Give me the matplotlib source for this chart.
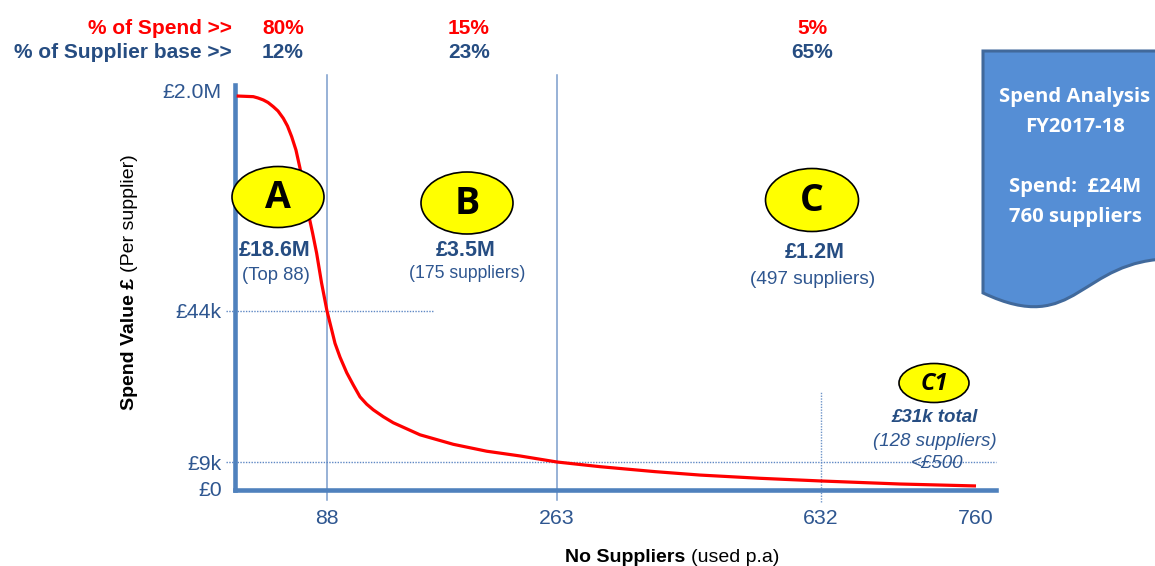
import numpy as np
import matplotlib
matplotlib.use("Agg")
import matplotlib.pyplot as plt
from matplotlib.patches import Ellipse, PathPatch
from matplotlib.path import Path
from matplotlib.transforms import ScaledTranslation

# ---------------- data ----------------
# supplier rank (sorted by spend) and spend per supplier (GBP)
rank = [1.6, 17.5, 22, 27.1, 31.6, 36.6, 41.1, 46.2, 50.2, 54.2,
        58.3, 62.2, 66, 70.1, 74.2, 78.1, 82.8, 88,
        91.6, 94.1, 97.9, 103, 108, 113.1, 118.2, 123.2, 130.8, 138.4, 158.8, 184.1, 209.5, 234.9, 263,
        323, 400, 463, 547, 632, 697, 760]
spend = [2000000, 1994000, 1982000, 1964000, 1941000, 1903000, 1864000, 1797000, 1727000, 1630000,
         1509000, 1342000, 1145000, 933000, 754000, 569000, 299000, 44000,
         39600, 36500, 33300, 29700, 26850, 24100, 22400, 21100, 19500, 18100, 15300, 13100, 11500, 10400, 9000,
         7500, 5900, 4800, 3760, 2900, 1930, 1300]

x_ticks = [88, 263, 632, 760]
x_tick_labels = ["88", "263", "632", "760"]
y_ticks = [0, 9000, 44000, 2000000]
y_tick_labels = ["£0", "£9k", "£44k", "£2.0M"]

segment_names = ["A", "B", "C"]
segment_totals = ["£18.6M", "£3.5M", "£1.2M"]
segment_counts = ["(Top 88)", "(175 suppliers)", "(497 suppliers)"]
spend_share = ["80%", "15%", "5%"]
supplier_share = ["12%", "23%", "65%"]

tail_name = "C1"
tail_lines = ["£31k total", "(128 suppliers)", "<£500"]
tail_start = 632
band_thresholds = [44000, 9000]

summary_lines = ["Spend Analysis", "FY2017-18", "", "Spend:  £24M", "760 suppliers"]

# ---------------- style ----------------
RED = "#FF0000"
NAVY = "#264D82"
TXT = "#2E5690"
AXIS = "#4F81BD"
GUIDE = "#7A9CCB"
SANS = ["Liberation Sans", "DejaVu Sans"]
BOXFONT = ["Open Sans", "DejaVu Sans"]
plt.rcParams["font.family"] = SANS

W, H = 1155, 566
fig = plt.figure(figsize=(W / 100, H / 100), dpi=100)

# piecewise-linear scales (pixel offsets of the knots along each axis)
xk_data = np.array([-100, 0, 88, 263, 632, 760, 1000], dtype=float)
xk_pix = np.array([-104.5, 0, 92, 322, 586, 741, 1031.6])
yk_data = np.array([-10000, 0, 9000, 44000, 2000000, 3000000], dtype=float)
yk_pix = np.array([-31, 0, 28, 179, 394, 503.9])


def xf(v):
    return np.interp(v, xk_data, xk_pix)


def xi(v):
    return np.interp(v, xk_pix, xk_data)


def yf(v):
    return np.interp(v, yk_data, yk_pix)


def yi(v):
    return np.interp(v, yk_pix, yk_data)


L, R, T, B = 235, 996, 85, 490
ax = fig.add_axes([L / W, (H - B) / H, (R - L) / W, (B - T) / H])
ax.set_xscale("function", functions=(xf, xi))
ax.set_yscale("function", functions=(yf, yi))
ax.set_xlim(0, float(xi(R - L)))
ax.set_ylim(0, float(yi(B - T)))

for s in ["top", "right"]:
    ax.spines[s].set_visible(False)
for s in ["left", "bottom"]:
    ax.spines[s].set_color(AXIS)
    ax.spines[s].set_linewidth(3.3)
    ax.spines[s].set_capstyle("projecting")

ax.set_xticks(x_ticks, x_tick_labels)
ax.set_yticks(y_ticks, y_tick_labels)
ax.minorticks_off()
ax.tick_params(axis="x", length=0, pad=14, labelsize=15.3, labelcolor=TXT)
ax.tick_params(axis="y", length=0, pad=9.4, labelsize=15.3, labelcolor=TXT)
# nudge the top and bottom value labels slightly upward
yt = ax.yaxis.get_major_ticks()
yt[3].label1.set_transform(yt[3].label1.get_transform()
                           + ScaledTranslation(0, 0.05, fig.dpi_scale_trans))
yt[0].label1.set_transform(yt[0].label1.get_transform()
                           + ScaledTranslation(0, 0.02, fig.dpi_scale_trans))

# segment boundaries
for xv in x_ticks[:2]:
    ax.axvline(xv, ymin=-0.025, ymax=1.025, color=GUIDE, lw=1.1, clip_on=False, zorder=1)
ax.axvline(tail_start, ymin=-0.03, ymax=0.242, color="#6E94C8", lw=1.0,
           ls=(0, (1, 1)), clip_on=False, zorder=1)
# spend thresholds
ax.axhline(band_thresholds[0], xmin=-0.012, xmax=0.26, color="#5F88C4", lw=1.0,
           ls=(0, (1, 1)), clip_on=False, zorder=1)
ax.axhline(band_thresholds[1], xmin=-0.012, xmax=1.0, color="#5F88C4", lw=1.0,
           ls=(0, (1, 1)), clip_on=False, zorder=1)

ax.plot(rank, spend, color=RED, lw=2.3, solid_capstyle="butt", solid_joinstyle="round",
        zorder=3, clip_on=False)

# ---------------- overlay in pixel units ----------------
ov = fig.add_axes([0, 0, 1, 1])
ov.set_xlim(0, W)
ov.set_ylim(H, 0)
ov.axis("off")

# share rows along the top
ov.text(232, 28, "% of Spend >>", color=RED, fontsize=15, fontweight="bold",
        ha="right", va="center")
ov.text(232, 53, "% of Supplier base >>", color=NAVY, fontsize=15, fontweight="bold",
        ha="right", va="center")
share_x = [283, 469, 812]
for xc, s1, s2 in zip(share_x, spend_share, supplier_share):
    ov.text(xc, 28, s1, color=RED, fontsize=15, fontweight="bold", ha="center", va="center")
    ov.text(xc, 53, s2, color=NAVY, fontsize=15, fontweight="bold", ha="center", va="center")

# segment badges and totals
badges = [(278, 197, 92, 61), (467, 203, 92, 62), (812, 200, 93, 63)]
tot_pos = [(275, 251), (466, 251), (815, 253)]
cnt_pos = [(276, 276), (467, 273), (813, 279)]
cnt_size = [13.3, 12.7, 13.7]
for (cx, cy, ew, eh), name, tot, cnt, tp, cp, cs in zip(
        badges, segment_names, segment_totals, segment_counts, tot_pos, cnt_pos, cnt_size):
    ov.add_patch(Ellipse((cx, cy), ew, eh, facecolor="#FFFF00", edgecolor="black", lw=1.2, zorder=5))
    ov.text(cx, cy + 1, name, fontsize=27, fontweight="bold", family=BOXFONT,
            ha="center", va="center", zorder=6)
    ov.text(tp[0], tp[1], tot, fontsize=15.5, fontweight="bold", color=NAVY,
            ha="center", va="center")
    ov.text(cp[0], cp[1], cnt, fontsize=cs, color=TXT, ha="center", va="center")

# tail group
ov.add_patch(Ellipse((934, 383), 70, 39, facecolor="#FFFF00", edgecolor="black", lw=1.2, zorder=5))
ov.text(934, 384, tail_name, fontsize=17, fontweight="bold", style="italic", family=BOXFONT,
        ha="center", va="center", zorder=6)
ov.text(935, 418, tail_lines[0], fontsize=13.5, fontweight="bold", style="italic",
        color=NAVY, ha="center", va="center")
ov.text(935, 442, tail_lines[1], fontsize=13.5, style="italic", color=TXT,
        ha="center", va="center")
ov.text(937, 463, tail_lines[2], fontsize=13.5, style="italic", color=TXT,
        ha="center", va="center")

# axis titles (bold part followed by regular part)
t1 = ov.text(565, 557, "No Suppliers", fontsize=14, fontweight="bold", ha="left", va="center")
ov.annotate("(used p.a)", xy=(1, 0.5), xycoords=t1, xytext=(4, 0), textcoords="offset points",
            fontsize=14, ha="left", va="center")
t2 = ov.text(130, 410, "Spend Value £", fontsize=14, fontweight="bold", rotation=90,
             ha="center", va="bottom")
ov.annotate("(Per supplier)", xy=(0.5, 1), xycoords=t2, xytext=(0, 4), textcoords="offset points",
            fontsize=14, rotation=90, ha="center", va="bottom")

# summary card (document shape)
x0, y0, bw, bh = 983, 51, 190, 259
verts = [
    (x0, y0), (x0 + bw, y0), (x0 + bw, y0 + 0.802 * bh),
    (x0 + 0.5 * bw, y0 + 0.802 * bh), (x0 + 0.5 * bw, y0 + 1.1075 * bh), (x0, y0 + 0.934 * bh),
    (x0, y0),
]
codes = [Path.MOVETO, Path.LINETO, Path.LINETO, Path.CURVE4, Path.CURVE4, Path.CURVE4, Path.CLOSEPOLY]
ov.add_patch(PathPatch(Path(verts, codes), facecolor="#558ED5", edgecolor="#41699B", lw=2.2, zorder=4))
card_y = [97, 127, 157, 187, 217]
for yy, line in zip(card_y, summary_lines):
    if line:
        ov.text(1075, yy, line, color="white", fontsize=14.6, fontweight="bold", family=BOXFONT,
                ha="center", va="center", zorder=6)

fig.savefig("out.png", dpi=100)
